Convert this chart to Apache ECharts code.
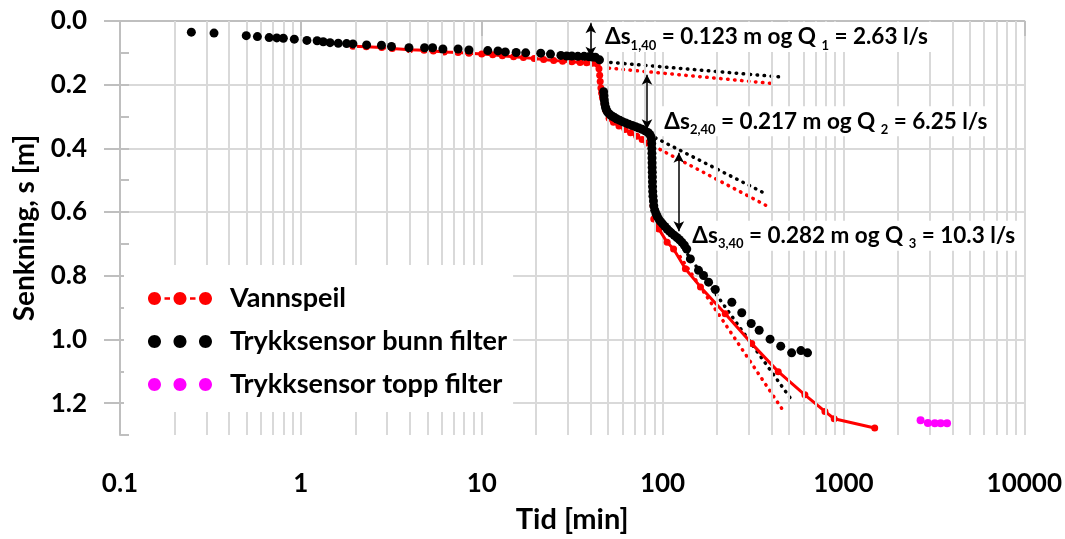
<!DOCTYPE html>
<html><head><meta charset="utf-8">
<script src="https://cdn.jsdelivr.net/npm/echarts@6/dist/echarts.min.js"></script>
<style>html,body{margin:0;padding:0;background:#fff}#c{width:1065px;height:539px}</style>
</head><body><div id="c"></div>
<script>
// ---- data (time [min], drawdown [m]) ----
const vannspeil = [
[1.94,0.079],[2.3,0.081],[2.8,0.083],[3.2,0.086],[4.0,0.090],[4.8,0.092],[5.4,0.094],[6.2,0.097],[7.4,0.099],[8.5,0.101],
[10,0.104],[11.5,0.106],[13,0.109],[15,0.112],[17,0.115],[19.5,0.118],[22,0.121],[25,0.124],[28,0.126],[31.5,0.128],
[35,0.130],[38,0.131],[41,0.133],[43.5,0.135],[44.5,0.150],[44.9,0.170],[45.2,0.190],[45.6,0.210],[46.0,0.226],[46.5,0.240],
[47.5,0.260],[48.5,0.280],[50.6,0.305],[53.5,0.318],[57.4,0.330],[62,0.341],[66.5,0.351],[72,0.362],[77.1,0.372],[82,0.383],
[87.1,0.393],[87.5,0.450],[88,0.520],[88.5,0.580],[89.4,0.622],[95.3,0.653],[106,0.695],[115,0.716],[133.7,0.778],[162,0.835],
[222,0.919],[311,1.013],[436,1.101],[612,1.174],[790,1.226],[889,1.249],[1489,1.278]
];
const bunnFilter = [
[0.248,0.035],[0.331,0.038],[0.499,0.046],[0.575,0.049],[0.668,0.052],[0.736,0.053],[0.80,0.054],[0.92,0.057],[1.08,0.061],[1.23,0.062],
[1.33,0.065],[1.45,0.068],[1.61,0.070],[1.79,0.071],[1.94,0.072],[2.31,0.075],[2.79,0.076],[3.17,0.080],[3.96,0.084],[4.83,0.084],
[5.35,0.084],[6.1,0.088],[7.4,0.088],[8.5,0.091],[10.8,0.093],[12.3,0.094],[13.5,0.097],[15.5,0.099],[17.5,0.100],[21.2,0.101],
[24,0.104],[27.4,0.108],[29.5,0.110],[31.5,0.110],[34,0.111],[36.8,0.111],[39,0.112],[40.8,0.113],[42.5,0.114],[44.8,0.122],
[47.2,0.222],[47.4,0.235],[47.6,0.248],[47.9,0.260],[48.3,0.270],[48.8,0.278],[49.5,0.285],[50.5,0.291],[51.7,0.296],[53,0.300],
[54.5,0.304],[56,0.308],[58,0.312],[60,0.316],[62.5,0.320],[65,0.324],[68,0.328],[71,0.332],[74,0.336],[77,0.340],
[80,0.345],[83,0.350],[85,0.356],[86.3,0.364],[87.0,0.372],[87.1,0.385],[87.2,0.400],[87.3,0.415],[87.4,0.430],[87.5,0.445],
[87.6,0.460],[87.7,0.475],[87.8,0.490],[87.9,0.505],[88.0,0.520],[88.2,0.535],[88.5,0.550],[89.0,0.565],[89.4,0.580],[90.5,0.594],
[92,0.605],[93.5,0.614],[95.3,0.622],[97.5,0.630],[100,0.637],[103,0.645],[106,0.653],[109,0.660],[112,0.666],[116,0.673],
[120,0.680],[124,0.687],[128,0.695],[132,0.704],[136,0.716],[142.5,0.747],[158,0.783],[168.5,0.799],[179.6,0.820],[195.6,0.843],
[241.5,0.883],[274,0.916],[309,0.950],[342,0.971],[393,0.999],[450,1.021],[517,1.042],[582,1.035],[633,1.042]
];
const toppFilter = [[2670,1.254],[2930,1.262],[3200,1.263],[3450,1.263],[3740,1.263]];

// straight-line extrapolations (dotted)
const trendBunn1 = [[51.6,0.130],[475,0.177]];
const trendVann1 = [[50.6,0.148],[419,0.197]];
const trendBunn2 = [[91.4,0.367],[361,0.539]];
const trendVann2 = [[89.4,0.393],[376,0.580]];
const trendBunn3 = [[131,0.716],[517,1.190]];
const trendVann3 = [[125,0.740],[455,1.216]];

// Δs arrows: [time, from, to]
const arrows = [[40.1,0.007,0.112],[82,0.169,0.340],[123,0.414,0.660]];
// annotations: [time, s, index, Δs, Q]
const notes = [[45.1,0.05,'1','0.123','2.63'],[96,0.315,'2','0.217','6.25'],[137,0.674,'3','0.282','10.3']];

const xTickLabels = [0.1,1,10,100,1000,10000];
const yTickLabels = [0,0.2,0.4,0.6,0.8,1.0,1.2];
const yMinorTicks = [0,0.1,0.2,0.3,0.4,0.5,0.6,0.7,0.8,0.9,1.0,1.1,1.2,1.3];

// ---- build ----
const FONT = 'Lato';
const minorGrid = [];
for (let d = 0.1; d < 10000; d *= 10) for (let k = 2; k <= 9; k++) minorGrid.push({xAxis: +(k*d).toPrecision(4)});

const dotted = (color) => ({color, width: 3.5, type: [0.5, 6.5], cap: 'round'});
const trend = (data, color) => ({type: 'line', data, symbol: 'none', lineStyle: dotted(color), z: 3, silent: true});

const circ = (c) => {
  const r = 6.5, k = 3.59;
  return `M${c-r},6.5C${c-r},${6.5-k} ${c-k},0 ${c},0C${c+k},0 ${c+r},${6.5-k} ${c+r},6.5` +
         `C${c+r},${6.5+k} ${c+k},13 ${c},13C${c-k},13 ${c-r},${6.5+k} ${c-r},6.5Z`;
};
const threeDots = 'path://' + circ(6.5) + circ(32) + circ(57.5);
const dotsDash = threeDots + 'M16.5,5.2L22,5.2L22,7.8L16.5,7.8Z M42,5.2L47.5,5.2L47.5,7.8L42,7.8Z';

const chart = echarts.init(document.getElementById('c'));
chart.setOption({
  animation: false,
  backgroundColor: '#fff',
  grid: {left: 120, right: 38, top: 21, bottom: 102},
  xAxis: {
    type: 'log', logBase: 10, min: 0.1, max: 10000,
    name: 'Tid [min]', nameLocation: 'middle', nameGap: 70,
    nameTextStyle: {fontFamily: FONT, fontWeight: 'bold', fontSize: 29, color: '#000'},
    axisLine: {lineStyle: {color: '#bfbfbf', width: 2}},
    axisTick: {length: 15, lineStyle: {color: '#bfbfbf', width: 2}},
    splitLine: {show: true, lineStyle: {color: '#d9d9d9', width: 2}},
    axisLabel: {
      margin: 36, fontFamily: FONT, fontWeight: 'bold', fontSize: 26, color: '#000',
      customValues: xTickLabels,
      formatter: v => String(+(+v).toPrecision(6))
    }
  },
  yAxis: [{
    type: 'value', inverse: true, min: 0, max: 1.3, interval: 0.1,
    name: 'Senkning, s [m]', nameLocation: 'middle', nameGap: 81,
    nameTextStyle: {fontFamily: FONT, fontWeight: 'bold', fontSize: 28, color: '#000'},
    axisLine: {lineStyle: {color: '#bfbfbf', width: 2}},
    axisTick: {length: 16, customValues: yTickLabels, lineStyle: {color: '#bfbfbf', width: 2}},
    splitLine: {show: true, lineStyle: {color: '#d9d9d9', width: 2}},
    axisLabel: {
      margin: 33, fontFamily: FONT, fontWeight: 'bold', fontSize: 26, color: '#000',
      customValues: yTickLabels, formatter: v => (+v).toFixed(1)
    }
  }, {
    type: 'value', inverse: true, min: 0, max: 1.3, interval: 0.1, position: 'left', offset: 0,
    axisLine: {show: false},
    axisTick: {show: true, inside: true, length: 9, customValues: yMinorTicks, lineStyle: {color: '#bfbfbf', width: 2}},
    axisLabel: {show: false}, splitLine: {show: false}
  }],
  legend: {
    orient: 'vertical', left: 124, top: 265, z: 20,
    backgroundColor: '#ffffff', borderWidth: 0, padding: [20, 6, 14, 24],
    itemWidth: 64, itemHeight: 13, itemGap: 16,
    itemStyle: {borderWidth: 0, opacity: 1},
    textStyle: {fontFamily: FONT, fontWeight: 'bold', fontSize: 27, color: '#000', padding: [0, 0, 0, 13]},
    data: [
      {name: 'Vannspeil', icon: dotsDash},
      {name: 'Trykksensor bunn filter', icon: threeDots},
      {name: 'Trykksensor topp filter', icon: threeDots}
    ]
  },
  series: [
    {
      type: 'line', data: [[0.1, 0]], symbol: 'none', lineStyle: {width: 0}, silent: true, z: 1,
      markLine: {silent: true, symbol: 'none', label: {show: false},
        lineStyle: {color: '#d9d9d9', width: 2, type: 'solid'}, data: minorGrid}
    },
    trend(trendVann1, '#ff0000'), trend(trendBunn1, '#000'),
    trend(trendVann2, '#ff0000'), trend(trendBunn2, '#000'),
    trend(trendVann3, '#ff0000'), trend(trendBunn3, '#000'),
    {
      name: 'Vannspeil', type: 'line', data: vannspeil, color: '#ff0000',
      symbol: 'circle', symbolSize: 7, showAllSymbol: true,
      lineStyle: {width: 3, color: '#ff0000'}, itemStyle: {color: '#ff0000', opacity: 1}, z: 4
    },
    {
      name: 'Trykksensor bunn filter', type: 'scatter', data: bunnFilter, color: '#000',
      symbolSize: 9, itemStyle: {color: '#000', opacity: 1}, z: 5
    },
    {
      name: 'Trykksensor topp filter', type: 'scatter', data: toppFilter, color: '#ff00ff',
      symbolSize: 8, itemStyle: {color: '#ff00ff', opacity: 1}, z: 5
    },
    {
      type: 'line', data: [[0.1, 0]], symbol: 'none', lineStyle: {width: 0}, silent: true, z: 6,
      markLine: {silent: true, symbol: ['arrow', 'arrow'], symbolSize: [8, 10], label: {show: false},
        lineStyle: {color: '#000', width: 1.5, type: 'solid'},
        data: arrows.map(a => [{coord: [a[0], a[1]]}, {coord: [a[0], a[2]]}])},
      markPoint: {
        silent: true, symbol: 'circle', symbolSize: 0,
        label: {
          show: true, position: 'right', distance: 0, backgroundColor: '#fff', padding: [0, 4, 0, 5],
          rich: {
            m: {fontFamily: FONT, fontWeight: 'bold', fontSize: 22.5, color: '#000', lineHeight: 30},
            s: {fontFamily: FONT, fontWeight: 'bold', fontSize: 13, color: '#000', lineHeight: 30, verticalAlign: 'bottom'}
          }
        },
        data: notes.map(n => ({coord: [n[0], n[1]],
          label: {formatter: `{m|Δs}{s|${n[2]},40}{m| = ${n[3]} m og Q }{s|${n[2]}}{m| = ${n[4]} l/s}`}}))
      }
    }
  ]
});
</script>
</body></html>
